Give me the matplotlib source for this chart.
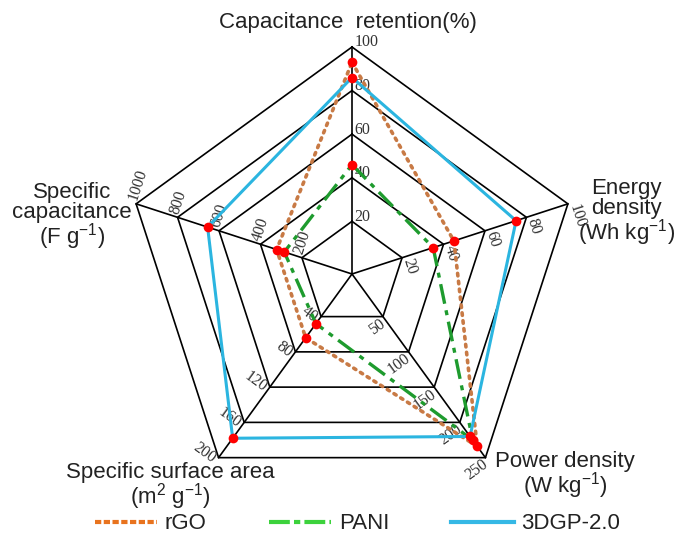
import numpy as np
import matplotlib.pyplot as plt
from matplotlib.lines import Line2D

plt.rcParams['mathtext.fontset'] = 'custom'
plt.rcParams['mathtext.rm'] = 'Liberation Sans'
plt.rcParams['mathtext.it'] = 'Liberation Sans:italic'

# axes of the radar, clockwise from the top
axis_names = ['Capacitance  retention(%)',
              'Energy\ndensity\n(Wh kg$^{-1}$)',
              'Power density\n(W kg$^{-1}$)',
              'Specific surface area\n(m$^2$ g$^{-1}$)',
              'Specific\ncapacitance\n(F g$^{-1}$)']
axis_max = [100, 100, 250, 200, 1000]
axis_ticks = [[20, 40, 60, 80, 100],
              [20, 40, 60, 80, 100],
              [50, 100, 150, 200, 250],
              [40, 80, 120, 160, 200],
              [200, 400, 600, 800, 1000]]

# series values (same order as axes)
rgo = [93, 45, 234, 64, 322]
pani = [46, 35, 225, 48, 285]
gp3d = [86, 75, 220, 178, 655]

angles = np.deg2rad([90, 18, -54, -126, 162])
name_pos = [(0.514, 0.959), (0.925, 0.606), (0.835, 0.118), (0.251, 0.098), (0.106, 0.598)]


def rad(v, vmax):
    return 0.04 + 0.96 * np.asarray(v, dtype=float) / np.asarray(vmax, dtype=float)


fig = plt.figure(figsize=(6.77, 5.40), dpi=100)
ax = fig.add_axes([0, 0, 1, 1])
ax.set_xlim(-352 / 227, 325 / 227)
ax.set_ylim(-266 / 227, 274 / 227)
ax.axis('off')

# pentagon rings
for k in range(1, 6):
    r = rad(k, 5)
    xs = np.append(r * np.cos(angles), r * np.cos(angles[0]))
    ys = np.append(r * np.sin(angles), r * np.sin(angles[0]))
    ax.plot(xs, ys, color='black', lw=1.2, zorder=1)

# spokes + tick labels
for i, a in enumerate(angles):
    ax.plot([0, np.cos(a)], [0, np.sin(a)], color='black', lw=1.2, zorder=1)
    perp = a - np.pi / 2
    rot = np.rad2deg(a) - 90
    ha = 'left'
    if rot < -90:
        rot += 180
        ha = 'right'
    for t in axis_ticks[i]:
        r = rad(t, axis_max[i]) + 0.02
        x = r * np.cos(a) + 0.012 * np.cos(perp)
        y = r * np.sin(a) + 0.012 * np.sin(perp)
        ax.text(x, y, str(t), rotation=rot, rotation_mode='anchor', ha=ha, va='center',
                fontsize=11.5, family='Liberation Serif', color='#333333', zorder=2)

for name, (px, py) in zip(axis_names, name_pos):
    ax.text(px, py, name, transform=ax.transAxes, ha='center', va='center',
            multialignment='center', fontsize=16, family='Liberation Sans',
            color='#222222', linespacing=0.92)


def draw(vals, **kw):
    r = rad(vals, axis_max)
    xs = np.append(r * np.cos(angles), r[0] * np.cos(angles[0]))
    ys = np.append(r * np.sin(angles), r[0] * np.sin(angles[0]))
    ax.plot(xs, ys, **kw)
    return xs[:-1], ys[:-1]


pts = []
pts.append(draw(rgo, color='#C87A45', lw=2.6, ls=(0, (0.7, 1.5)), dash_capstyle='round', zorder=3))
pts.append(draw(pani, color='#1E9B2E', lw=2.4, ls=(0, (6, 2, 1.5, 2)), zorder=4))
pts.append(draw(gp3d, color='#2BB5E0', lw=2.2, zorder=5))
for xs, ys in pts:
    ax.plot(xs, ys, 'o', color='#FF0000', ms=7, mec='none', zorder=6)

handles = [Line2D([], [], color='#E8731E', lw=3, ls=(0, (1.5, 0.6))),
           Line2D([], [], color='#3CD23C', lw=3, ls=(0, (5, 1, 1.5, 1))),
           Line2D([], [], color='#35B8E5', lw=3)]
leg = ax.legend(handles, ['rGO', 'PANI', '3DGP-2.0'], ncol=3, frameon=False,
                loc='center', bbox_to_anchor=(0.528, 0.030), handlelength=2.8,
                handletextpad=0.35, columnspacing=2.8,
                prop={'family': 'Liberation Sans', 'size': 16})
for t in leg.get_texts():
    t.set_color('#222222')

fig.savefig('out.png', dpi=100)
